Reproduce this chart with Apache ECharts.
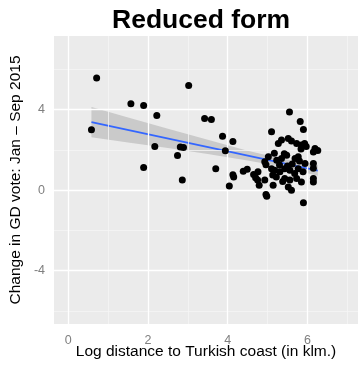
<!DOCTYPE html>
<html>
<head>
<meta charset="utf-8">
<script src="https://cdn.jsdelivr.net/npm/echarts@6/dist/echarts.min.js"></script>
<style>
  html, body { margin: 0; padding: 0; background: #fff; }
  #chart { width: 358px; height: 368px; }
</style>
</head>
<body>
<div id="chart"></div>
<script>
// log distance (x) / change in GD vote (y)
const points = [
  [0.58, 3.00], [0.71, 5.57], [1.57, 4.29], [1.89, 4.21], [2.22, 3.71],
  [2.17, 2.17], [1.89, 1.12], [2.81, 2.14], [2.89, 2.12], [2.74, 1.72],
  [2.86, 0.51], [3.02, 5.20], [3.42, 3.56], [3.59, 3.51], [3.87, 2.68],
  [4.13, 2.42], [3.94, 1.96], [3.70, 1.07], [4.13, 0.76], [4.15, 0.66],
  [4.04, 0.21], [4.39, 0.94], [4.49, 1.04], [4.65, 0.78], [4.70, 0.62],
  [4.75, 0.50], [4.79, 0.25], [4.76, 0.91], [4.93, 0.50], [4.96, -0.22],
  [4.98, -0.30], [5.10, 2.90], [5.55, 3.88], [5.82, 3.41], [5.90, 3.02],
  [5.14, 0.25], [5.52, 0.16], [5.60, 0.00], [5.90, -0.62], [6.15, 0.41],
  [6.15, 0.58], [5.27, 2.32], [5.35, 2.49], [5.52, 2.57], [5.60, 2.44],
  [5.73, 2.32], [5.85, 2.24], [5.93, 2.32], [5.97, 2.17], [6.19, 2.07],
  [6.26, 1.97], [6.15, 1.90], [5.48, 1.74], [5.35, 1.57], [5.23, 1.49],
  [5.02, 1.66], [4.93, 1.41], [5.69, 1.57], [5.77, 1.66], [5.94, 1.32],
  [6.15, 1.32], [6.15, 1.09], [5.10, 1.07], [5.18, 0.99], [5.31, 0.91],
  [5.43, 1.07], [5.56, 0.99], [5.68, 0.83], [5.77, 1.07], [5.89, 0.91],
  [5.22, 0.66], [5.43, 0.58], [5.56, 0.50], [5.73, 0.58], [5.85, 0.41],
  [5.17, 1.84], [5.42, 1.81], [5.50, 1.20], [5.62, 1.30], [5.30, 1.25],
  [5.80, 1.45], [5.38, 0.43], [5.13, 0.75], [4.96, 1.26], [5.84, 2.05]
]

// fitted line and its confidence band
const fitX = [0.58, 6.26]
const fitY = [3.38, 0.97]
const bandX = [0.58, 1.5, 2.5, 3.5, 4.5, 5.2, 5.8, 6.26]
const bandUpper = [4.13, 3.61, 3.05, 2.50, 1.96, 1.63, 1.40, 1.25]
const bandLower = [2.63, 2.37, 2.09, 1.80, 1.48, 1.23, 0.94, 0.71]

// ticks and grid lines
const xTicks = [0, 2, 4, 6]
const yTicks = [-4, 0, 4]
const xMinor = [1, 3, 5, 7]
const yMinor = [-6, -2, 2, 6]

const font = 'Liberation Sans, Arial, sans-serif'
const grey = '#7f7f7f'

const chart = echarts.init(document.getElementById('chart'), null, { renderer: 'canvas' })

const gridLines = [
  ...xMinor.map(v => ({ xAxis: v, lineStyle: { color: '#f5f5f5', width: 0.8 } })),
  ...yMinor.map(v => ({ yAxis: v, lineStyle: { color: '#f5f5f5', width: 0.8 } })),
  ...xTicks.map(v => ({ xAxis: v, lineStyle: { color: '#ffffff', width: 1.3 } })),
  ...yTicks.map(v => ({ yAxis: v, lineStyle: { color: '#ffffff', width: 1.3 } })),
]

chart.setOption({
  animation: false,
  backgroundColor: '#fff',
  title: {
    text: 'Reduced form',
    left: 107,
    top: 2,
    textStyle: { fontFamily: font, fontSize: 26.5, fontWeight: 'bold', color: '#000' },
  },
  grid: {
    left: 54,
    top: 36,
    right: 0,
    bottom: 44,
    show: true,
    backgroundColor: '#ebebeb',
    borderWidth: 0,
    outerBoundsMode: 'none',
  },
  xAxis: {
    type: 'value',
    min: -0.36,
    max: 7.27,
    name: 'Log distance to Turkish coast (in klm.)',
    nameLocation: 'middle',
    nameGap: 20,
    nameMoveOverlap: false,
    nameTextStyle: { fontFamily: font, fontSize: 15.5, color: '#000' },
    axisLine: { show: false },
    axisTick: { show: true, customValues: xTicks, length: 4, lineStyle: { color: grey } },
    axisLabel: { customValues: xTicks, margin: 10, fontFamily: font, fontSize: 12.5, color: grey },
    splitLine: { show: false },
  },
  yAxis: {
    type: 'value',
    min: -6.65,
    max: 7.66,
    name: 'Change in GD vote: Jan \u2013 Sep 2015',
    nameLocation: 'middle',
    nameRotate: 90,
    nameGap: 30,
    nameMoveOverlap: false,
    nameTextStyle: { fontFamily: font, fontSize: 15.5, color: '#000' },
    axisLine: { show: false },
    axisTick: { show: true, customValues: yTicks, length: 4, lineStyle: { color: grey } },
    axisLabel: { customValues: yTicks, margin: 9, fontFamily: font, fontSize: 12.5, color: grey },
    splitLine: { show: false },
  },
  series: [
    {
      type: 'line',
      data: [],
      z: 1,
      markLine: {
        silent: true,
        symbol: ['none', 'none'],
        label: { show: false },
        animation: false,
        lineStyle: { type: 'solid' },
        emphasis: { disabled: true },
        data: gridLines,
      },
    },
    {
      type: 'custom',
      z: 3,
      data: [[bandX[0], bandUpper[0]]],
      renderItem: (params, api) => {
        const top = bandX.map((x, i) => api.coord([x, bandUpper[i]]))
        const bottom = bandX.map((x, i) => api.coord([x, bandLower[i]])).reverse()
        return {
          type: 'polygon',
          shape: { points: top.concat(bottom) },
          style: { fill: 'rgba(153,153,153,0.4)' },
        }
      },
    },
    {
      type: 'line',
      z: 4,
      data: fitX.map((x, i) => [x, fitY[i]]),
      symbol: 'none',
      lineStyle: { color: '#3366ff', width: 1.6 },
    },
    {
      type: 'scatter',
      z: 5,
      data: points,
      symbolSize: 7,
      itemStyle: { color: '#000', opacity: 1 },
    },
  ],
})
</script>
</body>
</html>
